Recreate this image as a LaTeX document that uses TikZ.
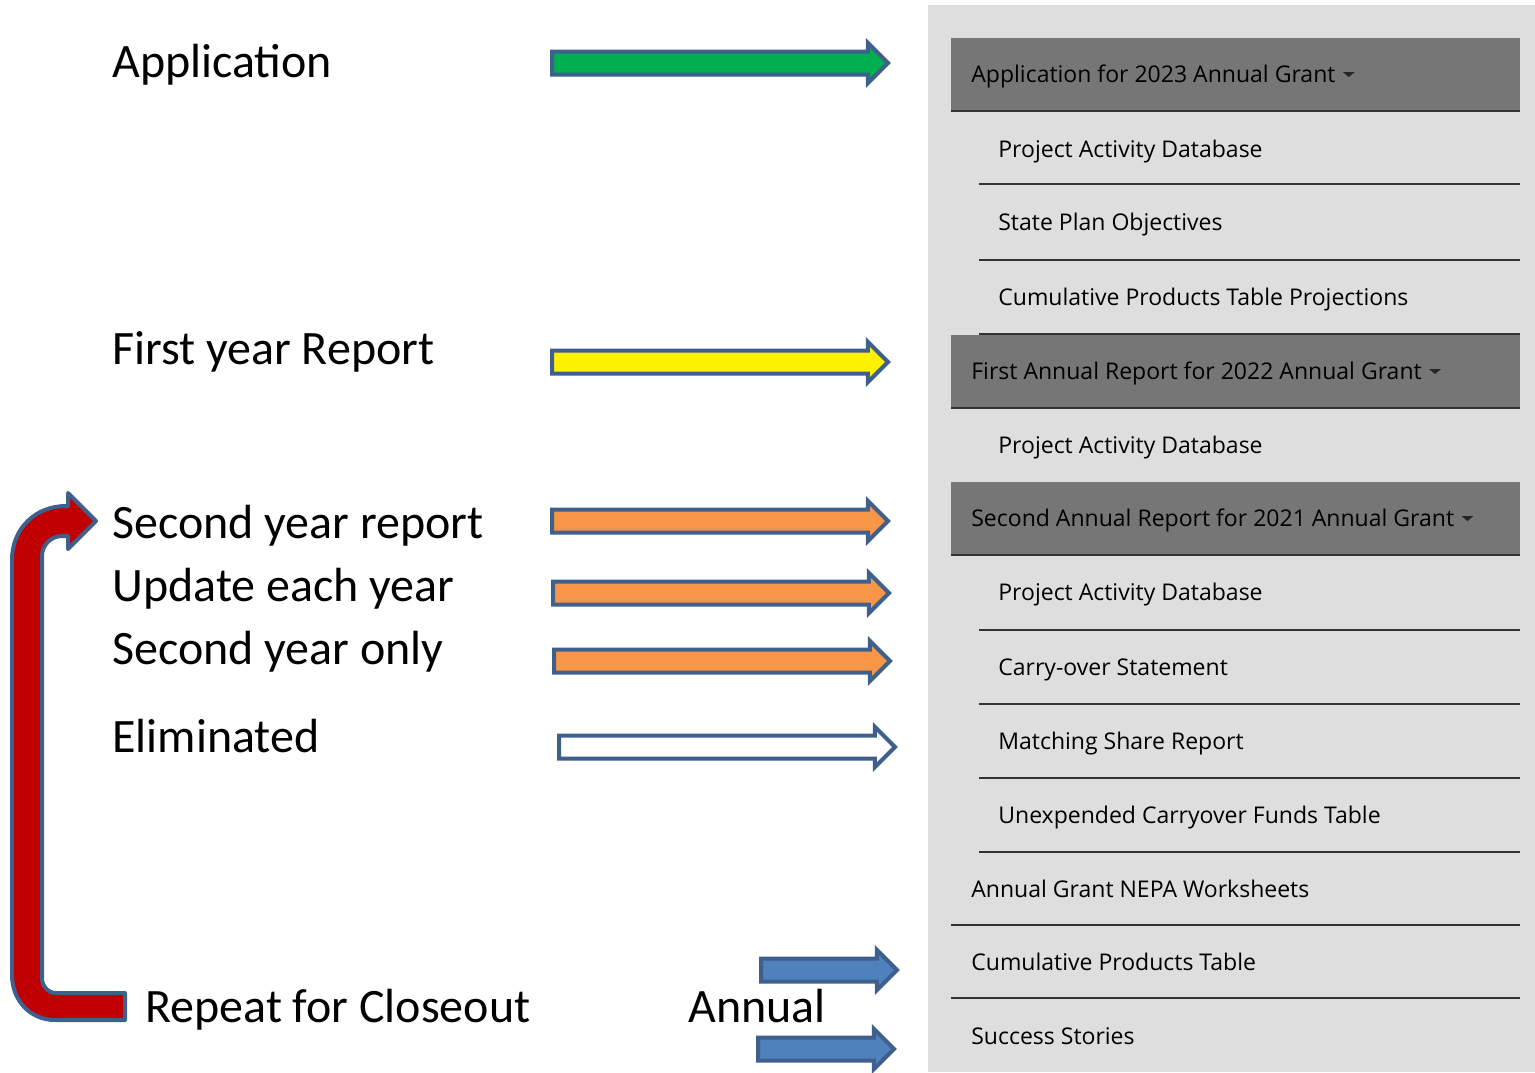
\documentclass[tikz,border=0pt]{standalone}
\usepackage{fontspec}
\setmainfont{Carlito}
\newfontfamily\menufont{Open Sans}
\usetikzlibrary{shapes.arrows}

\definecolor{arrowblue}{HTML}{3F5F8C}
\definecolor{panelgray}{HTML}{DEDEDE}
\definecolor{headgray}{HTML}{767676}
\definecolor{boxgreen}{HTML}{00B050}
\definecolor{boxorange}{HTML}{F79646}
\definecolor{boxblue}{HTML}{4F81BD}
\definecolor{boxred}{HTML}{C00000}

\tikzset{
	blockarrow/.style = {single arrow, draw = arrowblue, line width = 0.08cm, inner sep = 0pt, inner ysep = 0.19cm, single arrow head extend = 0.17cm, anchor = tail},
	longarrow/.style = {blockarrow, minimum height = 6.72cm},
	shortarrow/.style = {blockarrow, minimum height = 2.72cm},
	steptext/.style = {anchor = base west, inner sep = 0pt},
	menuhead/.style = {anchor = base west, inner sep = 0pt, text = black, font = {\menufont\fontsize{13.1pt}{15pt}\selectfont}},
	menuitem/.style = {menuhead},
	sepline/.style = {black!80, line width = 0.04cm}
}

\begin{document}
\begin{tikzpicture}[x = 0.02cm, y = -0.02cm, font = {\fontsize{27.3pt}{32pt}\selectfont}]
\useasboundingbox (0,0) rectangle (1535,1072);

% menu panel
\fill[panelgray] (928,5) rectangle (1535,1072);
\foreach \y in {38, 335, 482}
	\fill[headgray] (951,\y) rectangle (1520,\y+73);
\foreach \y in {111, 408, 555, 925, 998}
	\draw[sepline] (951,\y) -- (1520,\y);
\foreach \y in {184, 260, 334, 630, 704, 778, 852}
	\draw[sepline] (979,\y) -- (1520,\y);

\node[menuhead] (h1) at (971,82) {Application for 2023 Annual Grant};
\node[menuitem] (a1) at (998,157) {Project Activity Database};
\node[menuitem] (a2) at (998,230) {State Plan Objectives};
\node[menuitem] (a3) at (998,305) {Cumulative Products Table Projections};
\node[menuhead] (h2) at (971,379) {First Annual Report for 2022 Annual Grant};
\node[menuitem] (b1) at (998,453) {Project Activity Database};
\node[menuhead] (h3) at (971,526) {Second Annual Report for 2021 Annual Grant};
\node[menuitem] (c1) at (998,600) {Project Activity Database};
\node[menuitem] (c2) at (998,675) {Carry-over Statement};
\node[menuitem] (c3) at (998,749) {Matching Share Report};
\node[menuitem] (c4) at (998,823) {Unexpended Carryover Funds Table};
\node[menuitem] (d1) at (971,897) {Annual Grant NEPA Worksheets};
\node[menuitem] (d2) at (971,970) {Cumulative Products Table};
\node[menuitem] (d3) at (971,1044) {Success Stories};
\foreach \h in {h1, h2, h3}
	\fill[black!85] (\h.base east) ++(7,-10) -- ++(12,0) -- ++(-6,5) -- cycle;

% left column
\node[steptext] (app) at (112,77) {Application};
\node[steptext] (first) at (112,364) {First year Report};
\node[steptext] (second) at (112,538) {Second year report};
\node[steptext] (update) at (112,601) {Update each year};
\node[steptext] (only) at (112,664) {Second year only};
\node[steptext] (elim) at (112,752) {Eliminated};
\node[steptext] (repeat) at (145,1022) {Repeat for Closeout};
\node[steptext] (annual) at (688,1022) {Annual};

\node[longarrow, fill = boxgreen] (garrow) at (550,63) {};
\node[longarrow, fill = yellow] (yarrow) at (550,362) {};
\node[longarrow, fill = boxorange] (oarrow1) at (550,521) {};
\node[longarrow, fill = boxorange] (oarrow2) at (551,593) {};
\node[longarrow, fill = boxorange] (oarrow3) at (552,661) {};
\node[longarrow, fill = white] (warrow) at (557,747) {};
\node[shortarrow, fill = boxblue] (barrow1) at (759,970) {};
\node[shortarrow, fill = boxblue] (barrow2) at (756,1049) {};

% repeat loop
\draw[draw = arrowblue, fill = boxred, line width = 0.08cm, line join = round] (125,1020) -- (55,1020) .. controls (30,1020) and (12,1000) .. (12,975) -- (12,560) .. controls (12,528) and (36,506) .. (66,506) -- (68,506) -- (68,493) -- (96,521) -- (68,549) -- (68,536) -- (62,536) .. controls (51,536) and (42,545) .. (42,556) -- (42,978) .. controls (42,986) and (48,993) .. (56,993) -- (125,993) -- cycle;
\end{tikzpicture}
\end{document}
